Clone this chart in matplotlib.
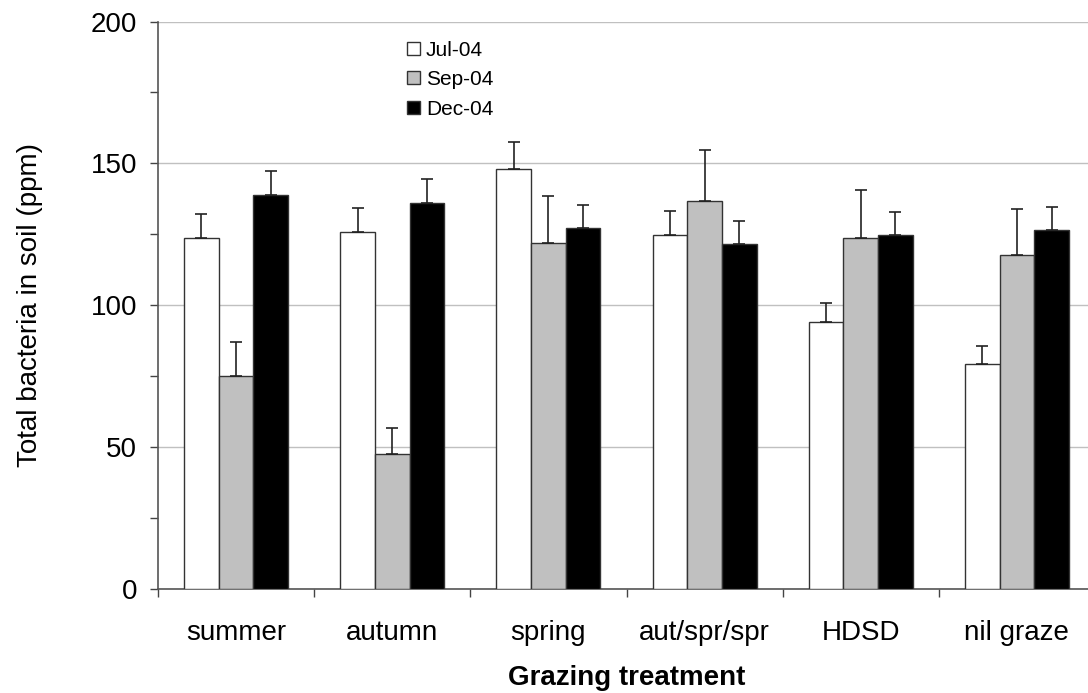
import numpy as np
import matplotlib
matplotlib.use("Agg")
import matplotlib.pyplot as plt

plt.rcParams['font.family'] = ['Liberation Sans', 'DejaVu Sans']

# grazing treatments and the three sampling dates
categories = ["summer", "autumn", "spring", "aut/spr/spr", "HDSD", "nil graze"]
series_names = ["Jul-04", "Sep-04", "Dec-04"]

jul = [123.7, 125.8, 148.1, 124.9, 94.0, 79.4]
jul_err = [8.5, 8.6, 9.5, 8.4, 6.9, 6.4]
sep = [75.1, 47.7, 121.8, 136.9, 123.8, 117.8]
sep_err = [12.1, 9.0, 16.8, 17.8, 16.8, 16.2]
dec = [138.7, 136.2, 127.2, 121.7, 124.9, 126.5]
dec_err = [8.7, 8.4, 8.2, 8.0, 8.1, 8.0]

colors = ["white", "#c0c0c0", "black"]

fig = plt.figure(figsize=(10.88, 6.93), dpi=100)
ax = fig.add_axes([158 / 1088, 104 / 693, 937 / 1088, 567.5 / 693])

x = np.arange(len(categories))
w = 1 / 4.5  # excel style gap width 150%
vals = [jul, sep, dec]
errs = [jul_err, sep_err, dec_err]
for i in range(3):
    pos = x + (i - 1) * w
    ax.bar(pos, vals[i], w, color=colors[i], edgecolor="#333333", linewidth=1.0,
           label=series_names[i], zorder=3)
    ax.errorbar(pos, vals[i], yerr=[np.zeros(len(x)), errs[i]], fmt="none",
                ecolor="#222222", elinewidth=1.2, capsize=4, capthick=1.2, zorder=4)

ax.set_xlim(-0.5, len(categories) - 0.5)
ax.set_ylim(0, 200)

# y axis: ticks every 25, labels + grid every 50
ax.set_yticks([0, 50, 100, 150, 200])
ax.set_yticks([25, 75, 125, 175], minor=True)
ax.yaxis.grid(True, which="major", color="#c0c0c0", linewidth=1.0, zorder=0)
ax.tick_params(axis="y", which="both", direction="out", length=6, width=1,
               color="#444444", labelsize=20, pad=9)

# x axis: ticks at category boundaries, labels at centres
ax.set_xticks(np.arange(len(categories) + 1) - 0.5)
ax.set_xticklabels([])
ax.set_xticks(x, minor=True)
ax.set_xticklabels(categories, minor=True)
ax.tick_params(axis="x", which="major", direction="out", length=6, width=1, color="#444444")
ax.tick_params(axis="x", which="minor", length=0, labelsize=20, pad=22)

for s in ["top", "right"]:
    ax.spines[s].set_visible(False)
for s in ["left", "bottom"]:
    ax.spines[s].set_color("#555555")
    ax.spines[s].set_linewidth(1.2)

ax.set_ylabel("Total bacteria in soil (ppm)", fontsize=20, labelpad=34)
ax.set_xlabel("Grazing treatment", fontsize=20, fontweight="bold", labelpad=14)

ax.legend(loc="upper left", bbox_to_anchor=(0.266, 0.966), frameon=False,
          fontsize=15, handlelength=0.6, handleheight=0.6, handletextpad=0.3,
          labelspacing=0.5, borderaxespad=0, borderpad=0)

fig.savefig("out.png", dpi=100)
